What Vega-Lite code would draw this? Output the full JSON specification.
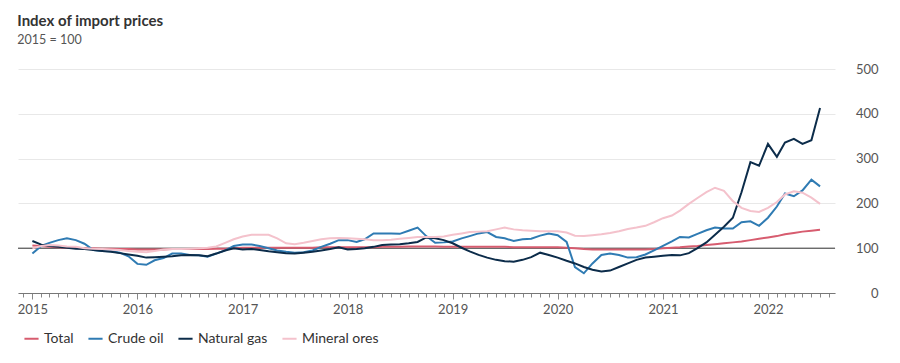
{
  "$schema": "https://vega.github.io/schema/vega-lite/v6.json",
  "width": 817,
  "height": 224,
  "autosize": {"type": "none"},
  "padding": {"left": 18, "top": 69, "right": 65, "bottom": 70},
  "background": "white",
  "config": {"font": "Lato", "view": {"stroke": null}},
  "title": {
    "text": "Index of import prices",
    "subtitle": "2015 = 100",
    "anchor": "start",
    "fontSize": 15,
    "fontWeight": "bold",
    "color": "#333333",
    "subtitleFontSize": 12.5,
    "subtitleColor": "#555555",
    "subtitlePadding": 5,
    "offset": 17
  },
  "layer": [
    {
      "data": {"values": [{"v": 100}]},
      "mark": {"type": "rule", "color": "#333333", "strokeWidth": 1},
      "encoding": {
        "y": {"field": "v", "type": "quantitative", "scale": {"domain": [0, 500], "nice": false}}
      }
    },
    {
      "data": {
        "values": [
          {"d": "2015-01-01", "Total": 106, "Crude oil": 88, "Natural gas": 116, "Mineral ores": 100},
          {"d": "2015-02-01", "Total": 105, "Crude oil": 105, "Natural gas": 108, "Mineral ores": 105},
          {"d": "2015-03-01", "Total": 103, "Crude oil": 112, "Natural gas": 105, "Mineral ores": 107},
          {"d": "2015-04-01", "Total": 102, "Crude oil": 118, "Natural gas": 103, "Mineral ores": 106},
          {"d": "2015-05-01", "Total": 101, "Crude oil": 122, "Natural gas": 101, "Mineral ores": 104},
          {"d": "2015-06-01", "Total": 101, "Crude oil": 118, "Natural gas": 99, "Mineral ores": 103},
          {"d": "2015-07-01", "Total": 100, "Crude oil": 110, "Natural gas": 98, "Mineral ores": 100},
          {"d": "2015-08-01", "Total": 100, "Crude oil": 96, "Natural gas": 96, "Mineral ores": 99},
          {"d": "2015-09-01", "Total": 99, "Crude oil": 94, "Natural gas": 94, "Mineral ores": 98},
          {"d": "2015-10-01", "Total": 99, "Crude oil": 93, "Natural gas": 92, "Mineral ores": 97},
          {"d": "2015-11-01", "Total": 98, "Crude oil": 90, "Natural gas": 89, "Mineral ores": 96},
          {"d": "2015-12-01", "Total": 98, "Crude oil": 82, "Natural gas": 86, "Mineral ores": 94},
          {"d": "2016-01-01", "Total": 97, "Crude oil": 65, "Natural gas": 83, "Mineral ores": 92},
          {"d": "2016-02-01", "Total": 97, "Crude oil": 63, "Natural gas": 79, "Mineral ores": 91},
          {"d": "2016-03-01", "Total": 97, "Crude oil": 73, "Natural gas": 80, "Mineral ores": 94},
          {"d": "2016-04-01", "Total": 97, "Crude oil": 78, "Natural gas": 81, "Mineral ores": 97},
          {"d": "2016-05-01", "Total": 98, "Crude oil": 88, "Natural gas": 82, "Mineral ores": 98},
          {"d": "2016-06-01", "Total": 98, "Crude oil": 88, "Natural gas": 84, "Mineral ores": 98},
          {"d": "2016-07-01", "Total": 98, "Crude oil": 85, "Natural gas": 85, "Mineral ores": 99},
          {"d": "2016-08-01", "Total": 98, "Crude oil": 84, "Natural gas": 84, "Mineral ores": 100},
          {"d": "2016-09-01", "Total": 98, "Crude oil": 81, "Natural gas": 82, "Mineral ores": 101},
          {"d": "2016-10-01", "Total": 99, "Crude oil": 88, "Natural gas": 88, "Mineral ores": 104},
          {"d": "2016-11-01", "Total": 99, "Crude oil": 95, "Natural gas": 95, "Mineral ores": 112},
          {"d": "2016-12-01", "Total": 100, "Crude oil": 105, "Natural gas": 100, "Mineral ores": 120},
          {"d": "2017-01-01", "Total": 101, "Crude oil": 108, "Natural gas": 97, "Mineral ores": 126},
          {"d": "2017-02-01", "Total": 101, "Crude oil": 108, "Natural gas": 98, "Mineral ores": 130},
          {"d": "2017-03-01", "Total": 101, "Crude oil": 105, "Natural gas": 96, "Mineral ores": 130},
          {"d": "2017-04-01", "Total": 101, "Crude oil": 100, "Natural gas": 93, "Mineral ores": 130},
          {"d": "2017-05-01", "Total": 101, "Crude oil": 95, "Natural gas": 91, "Mineral ores": 122},
          {"d": "2017-06-01", "Total": 101, "Crude oil": 92, "Natural gas": 89, "Mineral ores": 111},
          {"d": "2017-07-01", "Total": 101, "Crude oil": 90, "Natural gas": 88, "Mineral ores": 109},
          {"d": "2017-08-01", "Total": 101, "Crude oil": 91, "Natural gas": 90, "Mineral ores": 112},
          {"d": "2017-09-01", "Total": 101, "Crude oil": 95, "Natural gas": 92, "Mineral ores": 116},
          {"d": "2017-10-01", "Total": 102, "Crude oil": 103, "Natural gas": 95, "Mineral ores": 120},
          {"d": "2017-11-01", "Total": 102, "Crude oil": 110, "Natural gas": 98, "Mineral ores": 122},
          {"d": "2017-12-01", "Total": 102, "Crude oil": 118, "Natural gas": 102, "Mineral ores": 123},
          {"d": "2018-01-01", "Total": 102, "Crude oil": 118, "Natural gas": 97, "Mineral ores": 122},
          {"d": "2018-02-01", "Total": 102, "Crude oil": 114, "Natural gas": 98, "Mineral ores": 121},
          {"d": "2018-03-01", "Total": 102, "Crude oil": 120, "Natural gas": 100, "Mineral ores": 120},
          {"d": "2018-04-01", "Total": 102, "Crude oil": 133, "Natural gas": 103, "Mineral ores": 118},
          {"d": "2018-05-01", "Total": 103, "Crude oil": 133, "Natural gas": 107, "Mineral ores": 118},
          {"d": "2018-06-01", "Total": 103, "Crude oil": 133, "Natural gas": 108, "Mineral ores": 119},
          {"d": "2018-07-01", "Total": 103, "Crude oil": 132, "Natural gas": 109, "Mineral ores": 121},
          {"d": "2018-08-01", "Total": 104, "Crude oil": 139, "Natural gas": 111, "Mineral ores": 123},
          {"d": "2018-09-01", "Total": 104, "Crude oil": 146, "Natural gas": 114, "Mineral ores": 125},
          {"d": "2018-10-01", "Total": 104, "Crude oil": 127, "Natural gas": 124, "Mineral ores": 125},
          {"d": "2018-11-01", "Total": 104, "Crude oil": 112, "Natural gas": 122, "Mineral ores": 125},
          {"d": "2018-12-01", "Total": 103, "Crude oil": 113, "Natural gas": 118, "Mineral ores": 126},
          {"d": "2019-01-01", "Total": 103, "Crude oil": 115, "Natural gas": 111, "Mineral ores": 130},
          {"d": "2019-02-01", "Total": 103, "Crude oil": 122, "Natural gas": 101, "Mineral ores": 133},
          {"d": "2019-03-01", "Total": 103, "Crude oil": 127, "Natural gas": 93, "Mineral ores": 136},
          {"d": "2019-04-01", "Total": 103, "Crude oil": 133, "Natural gas": 85, "Mineral ores": 137},
          {"d": "2019-05-01", "Total": 103, "Crude oil": 136, "Natural gas": 79, "Mineral ores": 138},
          {"d": "2019-06-01", "Total": 103, "Crude oil": 125, "Natural gas": 74, "Mineral ores": 142},
          {"d": "2019-07-01", "Total": 103, "Crude oil": 122, "Natural gas": 71, "Mineral ores": 146},
          {"d": "2019-08-01", "Total": 102, "Crude oil": 116, "Natural gas": 70, "Mineral ores": 142},
          {"d": "2019-09-01", "Total": 102, "Crude oil": 120, "Natural gas": 74, "Mineral ores": 140},
          {"d": "2019-10-01", "Total": 102, "Crude oil": 121, "Natural gas": 80, "Mineral ores": 139},
          {"d": "2019-11-01", "Total": 102, "Crude oil": 128, "Natural gas": 90, "Mineral ores": 138},
          {"d": "2019-12-01", "Total": 102, "Crude oil": 133, "Natural gas": 85, "Mineral ores": 138},
          {"d": "2020-01-01", "Total": 102, "Crude oil": 129, "Natural gas": 79, "Mineral ores": 138},
          {"d": "2020-02-01", "Total": 101, "Crude oil": 114, "Natural gas": 72, "Mineral ores": 135},
          {"d": "2020-03-01", "Total": 100, "Crude oil": 58, "Natural gas": 66, "Mineral ores": 128},
          {"d": "2020-04-01", "Total": 98, "Crude oil": 44, "Natural gas": 58, "Mineral ores": 127},
          {"d": "2020-05-01", "Total": 97, "Crude oil": 66, "Natural gas": 52, "Mineral ores": 129},
          {"d": "2020-06-01", "Total": 97, "Crude oil": 85, "Natural gas": 48, "Mineral ores": 131},
          {"d": "2020-07-01", "Total": 97, "Crude oil": 88, "Natural gas": 50, "Mineral ores": 134},
          {"d": "2020-08-01", "Total": 97, "Crude oil": 85, "Natural gas": 58, "Mineral ores": 138},
          {"d": "2020-09-01", "Total": 97, "Crude oil": 79, "Natural gas": 66, "Mineral ores": 143},
          {"d": "2020-10-01", "Total": 97, "Crude oil": 80, "Natural gas": 74, "Mineral ores": 146},
          {"d": "2020-11-01", "Total": 97, "Crude oil": 86, "Natural gas": 79, "Mineral ores": 150},
          {"d": "2020-12-01", "Total": 98, "Crude oil": 95, "Natural gas": 81, "Mineral ores": 158},
          {"d": "2021-01-01", "Total": 100, "Crude oil": 105, "Natural gas": 83, "Mineral ores": 167},
          {"d": "2021-02-01", "Total": 101, "Crude oil": 115, "Natural gas": 85, "Mineral ores": 173},
          {"d": "2021-03-01", "Total": 102, "Crude oil": 125, "Natural gas": 84, "Mineral ores": 184},
          {"d": "2021-04-01", "Total": 104, "Crude oil": 124, "Natural gas": 89, "Mineral ores": 199},
          {"d": "2021-05-01", "Total": 105, "Crude oil": 132, "Natural gas": 100, "Mineral ores": 212},
          {"d": "2021-06-01", "Total": 107, "Crude oil": 140, "Natural gas": 113, "Mineral ores": 225},
          {"d": "2021-07-01", "Total": 109, "Crude oil": 146, "Natural gas": 130, "Mineral ores": 235},
          {"d": "2021-08-01", "Total": 111, "Crude oil": 144, "Natural gas": 148, "Mineral ores": 228},
          {"d": "2021-09-01", "Total": 113, "Crude oil": 144, "Natural gas": 168, "Mineral ores": 205},
          {"d": "2021-10-01", "Total": 115, "Crude oil": 158, "Natural gas": 225, "Mineral ores": 190},
          {"d": "2021-11-01", "Total": 118, "Crude oil": 160, "Natural gas": 292, "Mineral ores": 183},
          {"d": "2021-12-01", "Total": 121, "Crude oil": 150, "Natural gas": 284, "Mineral ores": 181},
          {"d": "2022-01-01", "Total": 124, "Crude oil": 168, "Natural gas": 333, "Mineral ores": 190},
          {"d": "2022-02-01", "Total": 127, "Crude oil": 193, "Natural gas": 304, "Mineral ores": 203},
          {"d": "2022-03-01", "Total": 131, "Crude oil": 222, "Natural gas": 336, "Mineral ores": 220},
          {"d": "2022-04-01", "Total": 134, "Crude oil": 216, "Natural gas": 344, "Mineral ores": 227},
          {"d": "2022-05-01", "Total": 137, "Crude oil": 229, "Natural gas": 333, "Mineral ores": 224},
          {"d": "2022-06-01", "Total": 139, "Crude oil": 253, "Natural gas": 341, "Mineral ores": 213},
          {"d": "2022-07-01", "Total": 141, "Crude oil": 238, "Natural gas": 413, "Mineral ores": 199}
        ]
      },
      "transform": [
        {"fold": ["Total", "Crude oil", "Natural gas", "Mineral ores"], "as": ["series", "value"]}
      ],
      "mark": {"type": "line", "strokeWidth": 2},
      "encoding": {
        "x": {
          "field": "d",
          "type": "temporal",
          "scale": {"domain": ["2014-11-12", "2022-08-22"]},
          "axis": {
            "title": null,
            "grid": false,
            "tickCount": {"interval": "month", "step": 1},
            "labelExpr": "month(datum.value) === 0 ? timeFormat(datum.value, '%Y') : ''",
            "labelOverlap": false,
            "labelFlush": false,
            "labelFontSize": 13,
            "labelColor": "#555555",
            "labelPadding": 4,
            "domainColor": "#777777",
            "tickColor": "#888888",
            "tickSize": {"condition": {"test": "month(datum.value) === 0", "value": 6}, "value": 4}
          }
        },
        "y": {
          "field": "value",
          "type": "quantitative",
          "scale": {"domain": [0, 500], "nice": false},
          "axis": {
            "orient": "right",
            "title": null,
            "values": [0, 100, 200, 300, 400, 500],
            "grid": true,
            "gridColor": "#e8e8e8",
            "domain": false,
            "ticks": false,
            "labelAlign": "right",
            "labelPadding": 43,
            "labelFontSize": 13,
            "labelColor": "#555555"
          }
        },
        "color": {
          "field": "series",
          "type": "nominal",
          "sort": ["Total", "Crude oil", "Natural gas", "Mineral ores"],
          "scale": {
            "domain": ["Total", "Crude oil", "Natural gas", "Mineral ores"],
            "range": ["#d75c6f", "#2f7bb3", "#0c2c4a", "#f4c2cc"]
          },
          "legend": {
            "orient": "bottom",
            "direction": "horizontal",
            "title": null,
            "padding": 5,
            "symbolType": "stroke",
            "symbolStrokeWidth": 2,
            "symbolSize": 200,
            "labelFontSize": 14,
            "labelColor": "#333333",
            "columnPadding": 10,
            "offset": 9
          }
        }
      }
    }
  ]
}
